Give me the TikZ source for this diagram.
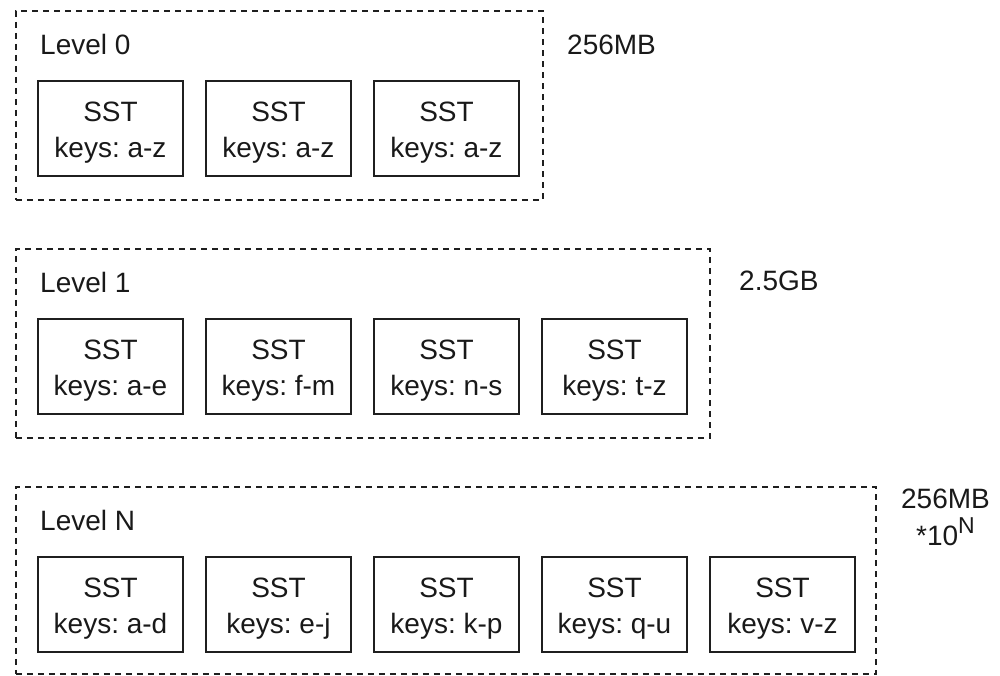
\documentclass[tikz,border=0pt]{standalone}
\usepackage{fontspec}
\setmainfont{Liberation Sans}
\frenchspacing
\newcommand{\tallstrut}{\rule{0pt}{27pt}}
\begin{document}
\begin{tikzpicture}[x=1pt,y=-1pt,
  levelbox/.style={draw=black!88, dash pattern=on 6pt off 5pt, line width=1.7pt,
    inner sep=0pt, anchor=north west},
  sst/.style={draw=black!88, line width=1.7pt, minimum width=145pt, minimum height=95pt,
    align=center, inner sep=0pt, text=black!90, font=\fontsize{28}{36}\selectfont},
  lbl/.style={anchor=base west, inner sep=0pt, text=black!90, font=\fontsize{28}{36}\selectfont}]
\useasboundingbox (0,0) rectangle (1000,675);

% level containers
\node[levelbox, minimum width=527pt, minimum height=189pt] (L0) at (15,10) {};
\node[levelbox, minimum width=694pt, minimum height=189pt] (L1) at (15,248) {};
\node[levelbox, minimum width=860pt, minimum height=187pt] (LN) at (15,486) {};

% level titles
\node[lbl] (t0) at (40,54) {Level 0};
\node[lbl] (t1) at (40,292) {Level 1};
\node[lbl] (tN) at (40,530) {Level N};

% size annotations
\node[lbl] (s0) at (567,54) {256MB};
\node[lbl] (s1) at (739,290) {2.5GB};
\node[align=center, inner sep=0pt, anchor=base, text=black!90,
      font=\fontsize{28}{37}\selectfont] (sN) at (945.5,545)
  {256MB\\*10\raisebox{0.42em}{\fontsize{23}{23}\selectfont N}};

% SST files per level
\foreach \k [count=\i from 0] in {a-z,a-z,a-z}
  \node[sst] (a\i) at (110.5+168*\i,128.5) {\tallstrut SST\\keys: \k};
\foreach \k [count=\i from 0] in {a-e,f-m,n-s,t-z}
  \node[sst] (b\i) at (110.5+168*\i,366.5) {\tallstrut SST\\keys: \k};
\foreach \k [count=\i from 0] in {a-d,e-j,k-p,q-u,v-z}
  \node[sst] (c\i) at (110.5+168*\i,604.5) {\tallstrut SST\\keys: \k};
\end{tikzpicture}
\end{document}
